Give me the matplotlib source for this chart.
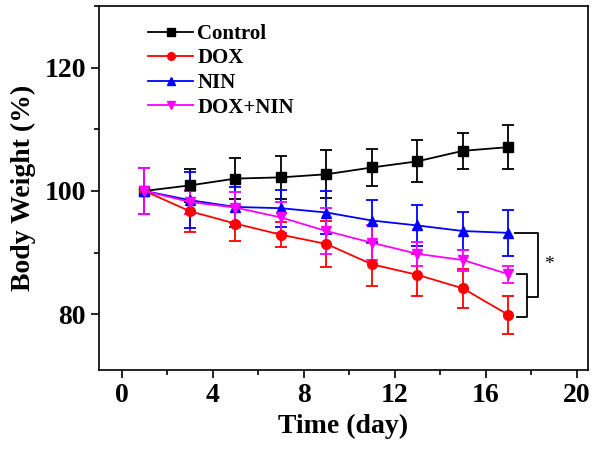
import matplotlib
matplotlib.use("Agg")
import matplotlib.pyplot as plt
from matplotlib.ticker import MultipleLocator
from matplotlib.lines import Line2D

days = [1, 3, 5, 7, 9, 11, 13, 15, 17]
control = [100.0, 100.9, 102.0, 102.2, 102.7, 103.8, 104.8, 106.5, 107.1]
control_err = [3.7, 2.7, 3.3, 3.5, 3.9, 3.0, 3.4, 2.9, 3.6]
dox = [100.0, 96.7, 94.7, 92.9, 91.4, 88.1, 86.4, 84.2, 79.9]
dox_err = [3.7, 3.3, 2.8, 2.0, 3.8, 3.5, 3.4, 3.1, 3.1]
nin = [100.0, 98.5, 97.4, 97.2, 96.5, 95.2, 94.4, 93.5, 93.2]
nin_err = [3.7, 4.5, 3.3, 3.0, 3.5, 3.4, 3.3, 3.1, 3.7]
doxnin = [100.0, 98.2, 97.3, 95.7, 93.5, 91.6, 89.8, 88.8, 86.5]
doxnin_err = [3.7, 2.0, 2.5, 2.5, 3.7, 2.8, 2.0, 1.7, 1.4]

labels = ["Control", "DOX", "NIN", "DOX+NIN"]
colors = ["black", "#ff0000", "#0000ff", "#ff00ff"]
markers = ["s", "o", "^", "v"]
series = [control, dox, nin, doxnin]
errors = [control_err, dox_err, nin_err, doxnin_err]

plt.rcParams['font.family'] = ['Liberation Serif', 'DejaVu Serif']
plt.rcParams['font.weight'] = 'bold'

fig = plt.figure(figsize=(6.0, 4.51), dpi=100)
ax = fig.add_axes([0.165, 0.18, 0.815, 0.807])

handles = []
for y, e, c, m, lab in zip(series, errors, colors, markers, labels):
    ax.errorbar(days, y, yerr=e, color=c, marker=m, markersize=7, lw=1.3,
                elinewidth=1.3, capsize=4, capthick=1.3)
    handles.append(Line2D([], [], color=c, marker=m, markersize=5.5, lw=1.3, label=lab))

# significance brackets
ax.plot([17.3, 18.28, 18.28, 17.8], [nin[-1], nin[-1], 82.8, 82.8], color='black', lw=1.3)
ax.plot([17.4, 17.8, 17.8, 17.4], [doxnin[-1], doxnin[-1], 79.6, 79.6], color='black', lw=1.3)
ax.text(18.8, 88.0, "*", ha='center', va='center', fontsize=14, fontweight='normal')

ax.set_xlim(-1, 20.5)
ax.set_ylim(71, 130)
ax.xaxis.set_major_locator(MultipleLocator(4))
ax.xaxis.set_minor_locator(MultipleLocator(2))
ax.yaxis.set_major_locator(MultipleLocator(20))
ax.yaxis.set_minor_locator(MultipleLocator(10))
ax.tick_params(which='major', direction='out', length=6, width=1.2, labelsize=20)
ax.tick_params(which='minor', direction='out', length=3.5, width=1.2)
for sp in ax.spines.values():
    sp.set_linewidth(1.2)
ax.set_xlabel("Time (day)", fontsize=20, fontweight='bold', labelpad=4)
ax.set_ylabel("Body Weight (%)", fontsize=20, fontweight='bold', labelpad=6)

ax.legend(handles=handles, loc='upper left', bbox_to_anchor=(0.075, 0.985), frameon=False,
          prop={'size': 15, 'weight': 'bold'}, handlelength=2.15, handletextpad=0.2,
          labelspacing=0.22, borderaxespad=0.2)

fig.savefig("out.png", dpi=100)
